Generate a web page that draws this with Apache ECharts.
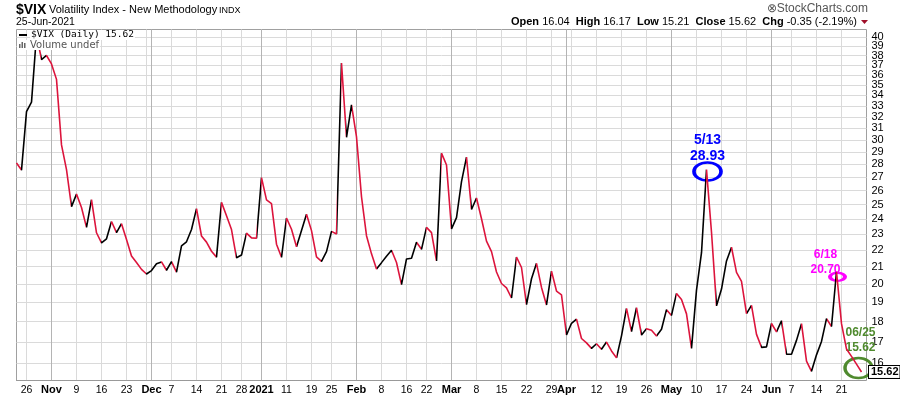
<!DOCTYPE html>
<html><head><meta charset="utf-8">
<script src="https://cdn.jsdelivr.net/npm/echarts@6/dist/echarts.min.js"></script>
<style>html,body{margin:0;padding:0;background:#fff}#c{width:900px;height:396px}</style>
</head><body><div id="c"></div>
<script>
// ---- data ----
const startDate = '2020-10-22';
const endDate = '2021-06-25';
const holidays = ['2020-11-26','2020-12-25','2021-01-01','2021-01-18','2021-02-15','2021-04-02','2021-05-31'];
const vixClose = [
 28.11,27.55,32.46,33.35,40.28,37.59,38.02,
 37.13,35.55,29.57,27.58,24.86,
 25.75,24.80,23.45,25.35,23.10,
 22.45,22.71,23.84,23.11,23.70,
 22.66,21.64,21.25,20.84,
 20.57,20.77,21.17,21.28,20.79,
 21.30,20.68,22.27,22.52,23.31,
 24.72,22.89,22.50,21.93,21.57,
 25.16,24.23,23.31,21.53,
 21.70,23.08,22.77,22.75,
 26.97,25.34,25.07,22.37,21.56,
 24.08,23.33,22.21,23.25,24.34,
 23.24,21.58,21.32,21.91,
 23.19,23.02,37.21,30.21,33.09,
 30.24,25.56,22.91,21.77,20.87,
 21.24,21.63,21.99,21.25,19.97,
 21.46,21.50,22.49,22.05,
 23.45,23.11,21.34,28.89,27.95,
 23.35,24.10,26.67,28.57,24.66,
 25.47,24.03,22.56,21.91,20.69,
 20.03,19.79,19.23,21.58,20.95,
 18.88,20.30,21.20,19.81,18.86,
 20.74,19.61,19.40,17.33,
 17.91,18.12,17.16,16.95,16.69,
 16.91,16.65,16.99,16.57,16.25,
 17.29,18.68,17.50,18.71,17.33,
 17.64,17.56,17.28,17.61,18.61,
 18.31,19.48,19.15,18.39,16.69,
 19.66,21.84,27.59,23.13,18.81,
 19.72,21.34,22.18,20.67,20.15,
 18.40,18.84,17.36,16.74,16.76,
 17.90,17.48,18.04,16.42,
 16.42,17.07,17.89,16.10,15.65,
 16.39,17.02,18.15,17.75,20.70,
 17.89,16.66,16.32,15.97,15.62
];
const yTickValues = [16,17,18,19,20,21,22,23,24,25,26,27,28,29,30,31,32,33,34,35,36,37,38,39,40];
const xTickDates = ['2020-10-26','2020-11-02','2020-11-09','2020-11-16','2020-11-23','2020-12-01','2020-12-07','2020-12-14','2020-12-21','2020-12-28','2021-01-04','2021-01-11','2021-01-19','2021-01-25','2021-02-01','2021-02-08','2021-02-16','2021-02-22','2021-03-01','2021-03-08','2021-03-15','2021-03-22','2021-03-29','2021-04-01','2021-04-12','2021-04-19','2021-04-26','2021-05-03','2021-05-10','2021-05-17','2021-05-24','2021-06-01','2021-06-07','2021-06-14','2021-06-21'];
const xTickLabels = ['26','Nov','9','16','23','Dec','7','14','21','28','2021','11','19','25','Feb','8','16','22','Mar','8','15','22','29','Apr','12','19','26','May','10','17','24','Jun','7','14','21'];
const annotationDates = ['2021-05-12','2021-06-18','2021-06-25'];
const annotationTexts = ['5/13\n28.93','6/18\n20.70','06/25\n15.62'];
const lastValueText = '15.62';

// ---- categories ----
const tradingDays = [];
for (let d = new Date(startDate + 'T00:00:00Z'); d <= new Date(endDate + 'T00:00:00Z'); d.setUTCDate(d.getUTCDate() + 1)) {
  const wd = d.getUTCDay(); const s = d.toISOString().slice(0, 10);
  if (wd === 0 || wd === 6 || holidays.includes(s)) continue;
  tradingDays.push(s);
}
const categories = tradingDays.concat(['2021-06-28']);
const wk = s => new Date(s + 'T00:00:00Z').getUTCDay();
const weekStart = new Set(), monthStart = new Set();
for (let i = 1; i < tradingDays.length; i++) {
  if (wk(tradingDays[i]) < wk(tradingDays[i - 1])) weekStart.add(i);
  if (tradingDays[i].slice(5, 7) !== tradingDays[i - 1].slice(5, 7)) monthStart.add(i);
}
const labelMap = new Map(xTickDates.map((d, i) => [d, xTickLabels[i]]));
const yEven = yTickValues.filter(v => v % 2 === 0), yOdd = yTickValues.filter(v => v % 2 === 1);

// up/down segment colouring
const UP = '#000000', DOWN = '#dc143c';
const pieces = [];
for (let i = 0; i < vixClose.length - 1; i++) {
  const c = vixClose[i + 1] >= vixClose[i] ? UP : DOWN;
  const last = pieces[pieces.length - 1];
  if (last && last.color === c) last.lt = i + 1; else pieces.push({ gte: i, lt: i + 1, color: c });
}
pieces[pieces.length - 1].lte = pieces[pieces.length - 1].lt; delete pieces[pieces.length - 1].lt;

const FF = 'Liberation Sans, Arial, sans-serif';
const ellipse = 'path://M0,10A10,10,0,1,1,20,10A10,10,0,1,1,0,10Z';
const idx = d => tradingDays.indexOf(d);
const ann = (k, col, size, off, fs, lh, lOff) => ({
  coord: [annotationDates[k], vixClose[idx(annotationDates[k])]],
  symbol: ellipse, symbolSize: size, symbolOffset: off,
  itemStyle: { color: 'rgba(0,0,0,0)', borderColor: col, borderWidth: 3 },
  label: { show: true, position: 'top', distance: 0, offset: lOff, formatter: annotationTexts[k],
    color: col, fontWeight: 'bold', fontSize: fs, lineHeight: lh, fontFamily: FF, align: 'center' }
});
const yLabelStyle = { showMaxLabel: true, showMinLabel: true, hideOverlap: false, margin: 5, fontSize: 11, color: '#000', fontFamily: FF };

const chart = echarts.init(document.getElementById('c'), null, { renderer: 'canvas' });
chart.setOption({
  animation: false,
  backgroundColor: '#fff',
  grid: { left: 16.5, right: 33.5, top: 29.5, bottom: 15.5, show: true, borderColor: '#a0a0a0', borderWidth: 1, backgroundColor: 'transparent' },
  visualMap: { show: false, type: 'piecewise', dimension: 0, seriesIndex: 0, pieces: pieces, outOfRange: { color: UP } },
  xAxis: [{
    type: 'category', data: categories, boundaryGap: false, position: 'bottom',
    axisLine: { show: true, lineStyle: { color: '#999', type: 'dotted' } },
    axisTick: { show: false },
    axisLabel: {
      interval: (i, v) => labelMap.has(v), margin: 4, fontSize: 10.5, color: '#000', fontFamily: FF,
      formatter: v => { const t = labelMap.get(v) || ''; return /^\d{1,2}$/.test(t) ? t : '{b|' + t + '}'; },
      rich: { b: { fontWeight: 'bold', fontSize: 11, fontFamily: FF, color: '#000' } }
    },
    splitLine: { show: true, interval: (i) => weekStart.has(i), lineStyle: { color: '#dadada', width: 1 } }
  }, {
    type: 'category', data: categories, boundaryGap: false, position: 'top',
    axisLine: { show: false }, axisTick: { show: false }, axisLabel: { show: false },
    splitLine: { show: true, interval: (i) => monthStart.has(i), lineStyle: { color: '#b4b4b4', width: 1 } }
  }],
  yAxis: [{
    type: 'log', position: 'right', min: 15.25, max: 40.9,
    axisLine: { show: false },
    axisTick: { show: false, customValues: yTickValues },
    axisLabel: Object.assign({ customValues: yEven }, yLabelStyle),
    splitLine: { show: true, lineStyle: { color: '#dadada', width: 1 } }
  }, {
    type: 'log', position: 'right', offset: 0, min: 15.25, max: 40.9,
    axisLine: { show: false },
    axisTick: { show: false, customValues: yOdd },
    axisLabel: Object.assign({ customValues: yOdd }, yLabelStyle),
    splitLine: { show: false }
  }],
  series: [{
    type: 'line', data: vixClose, xAxisIndex: 0, yAxisIndex: 0, showSymbol: false, symbol: 'none',
    lineStyle: { width: 1.6 }, z: 5,
    markPoint: {
      silent: true,
      data: [
        ann(0, '#0000ff', [27, 18], [1, 2], 14, 16, [0, 3]),
        ann(1, '#ff00ff', [15, 8], [1, 5], 12, 15, [-12, 5]),
        ann(2, '#4f8a2e', [27, 20], [-3, -4], 12, 15, [2, -1]),
        { coord: [tradingDays[tradingDays.length - 1], vixClose[vixClose.length - 1]], symbol: 'rect', symbolSize: 1,
          itemStyle: { color: 'rgba(0,0,0,0)' },
          label: { show: true, position: 'right', distance: 7, formatter: lastValueText, color: '#000', fontWeight: 'bold',
            fontSize: 11, fontFamily: FF, backgroundColor: '#fff', borderColor: '#000', borderWidth: 1, padding: [1, 1, 0, 2] } }
      ]
    }
  }],
  graphic: [
    { type: 'text', left: 16, top: 3, z: 100, style: { text: '$VIX', font: 'bold 14px ' + FF, fill: '#000' } },
    { type: 'text', left: 49, top: 4, z: 100, style: { text: 'Volatility Index - New Methodology', font: '11px ' + FF, fill: '#000' } },
    { type: 'text', left: 219, top: 6, z: 100, style: { text: 'INDX', font: '9px ' + FF, fill: '#000' } },
    { type: 'text', left: 16, top: 17, z: 100, style: { text: '25-Jun-2021', font: '10.5px ' + FF, fill: '#000' } },
    { type: 'text', right: 32, top: 3, z: 100, style: { text: '\u2297StockCharts.com', font: '12px ' + FF, fill: '#555' } },
    { type: 'text', right: 43, top: 16, z: 100, style: {
      text: '{b|Open} 16.04  {b|High} 16.17  {b|Low} 15.21  {b|Close} 15.62  {b|Chg} -0.35 (-2.19%)',
      font: '11px ' + FF, fill: '#000', rich: { b: { fontWeight: 'bold', fontSize: 11, fontFamily: FF } } } },
    { type: 'polygon', z: 100, shape: { points: [[861, 20], [868, 20], [864.5, 24]] }, style: { fill: '#a0102a' } },
    { type: 'rect', z: 100, shape: { x: 19, y: 34, width: 8, height: 2 }, style: { fill: '#000' } },
    { type: 'text', left: 30, top: 30, z: 100, style: { text: '$VIX (Daily) 15.62', font: '9.5px "DejaVu Sans Mono", monospace', fill: '#000', backgroundColor: '#fff', padding: [0, 1, 0, 1] } },
    { type: 'rect', z: 100, shape: { x: 17, y: 40, width: 12, height: 10 }, style: { fill: '#fff' } },
    { type: 'rect', z: 101, shape: { x: 19, y: 44, width: 1.5, height: 4 }, style: { fill: '#666' } },
    { type: 'rect', z: 101, shape: { x: 21.5, y: 42, width: 1.5, height: 6 }, style: { fill: '#666' } },
    { type: 'rect', z: 101, shape: { x: 24, y: 43, width: 1.5, height: 5 }, style: { fill: '#666' } },
    { type: 'text', left: 29, top: 40, z: 100, style: { text: 'Volume undef', font: '10px "DejaVu Sans", sans-serif', fill: '#555', backgroundColor: '#fff', padding: [0, 1, 0, 1] } }
  ]
});
</script></body></html>
